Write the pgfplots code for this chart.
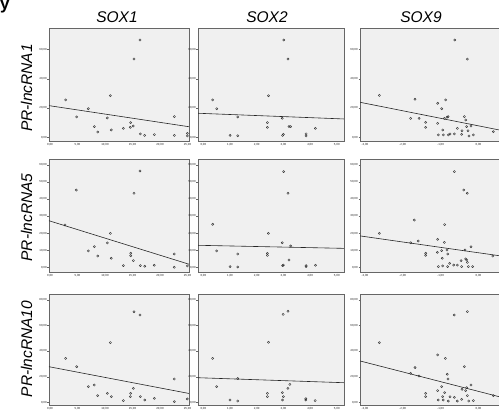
\documentclass[border=0pt]{standalone}
\usepackage{fontspec}
\setmainfont{Liberation Sans}
\usepackage{pgfplots}
\pgfplotsset{compat=1.18}
\definecolor{bgpanel}{HTML}{F0F0F0}
\definecolor{framec}{HTML}{666666}
\definecolor{ptc}{HTML}{2A2A2A}
\pgfplotsset{
 panel/.style={
  scale only axis, anchor=north west, height=113pt,
  axis background/.style={fill=bgpanel},
  axis line style={framec, line width=0.85pt},
  tick style={framec, line width=0.3pt},
  major tick length=1.5pt,
  tick align=outside,
  xtick pos=bottom, ytick pos=left,
  ticklabel style={font=\fontsize{2.9}{3}\selectfont, text=black!85, inner sep=0.6pt},
  /pgf/number format/.cd, fixed, fixed zerofill, precision=2, use comma, assume math mode=true,
 },
 dots/.style={only marks, mark=o, mark size=1.1pt, mark options={draw=ptc, line width=0.4pt}},
 fitl/.style={no marks, black!85, line width=0.6pt},
 col1/.style={width=140pt, xmin=-0.18, xmax=25.27, xtick={0,5,...,25}},
 col2/.style={width=146pt, xmin=-0.2, xmax=5.27, xtick={0,1,...,5}},
 col3/.style={width=145pt, xmin=-3.132, xmax=0.704, xtick={-3,-2,-1,0}},
 row1/.style={ymin=-2.53, ymax=74.6, ytick={0,20,40,60}},
 row2/.style={ymin=-2.76, ymax=63.5, ytick={0,10,...,60}},
 row3/.style={height=111pt, ymin=-2.1, ymax=84.6, ytick={0,20,...,80}},
}
\begin{document}
\begin{tikzpicture}[x=1pt,y=1pt]
\useasboundingbox (0,0) rectangle (499pt,411pt);
\clip (0,0) rectangle (499pt,411pt);
% ---------- Row 1 ----------
\begin{axis}[panel, col1, row1, at={(49pt,383pt)}]
\addplot[dots] coordinates {(2.85,25.5) (4.85,13.9) (6.97,19.5) (8.06,7.3) (8.67,3.6) (10.42,13.2) (10.97,28.4) (11.15,5.0) (13.33,6.1) (14.67,10.0) (14.6,6.8) (15.15,7.7) (15.27,53.4) (16.36,66.4) (16.42,2.3) (17.21,1.3) (18.97,1.8) (22.6,14.1) (22.6,1.3) (24.97,2.7) (24.97,0.9)};
\addplot[fitl] coordinates {(-0.18,21.6) (25.27,7.2)};
\end{axis}
\begin{axis}[panel, col2, row1, at={(198pt,383pt)}]
\addplot[dots] coordinates {(0.35,25.5) (0.50,19.5) (1.00,1.3) (1.29,13.9) (1.29,1.1) (2.40,10.0) (2.40,6.8) (2.44,28.4) (2.96,13.0) (2.97,1.3) (3.00,2.0) (3.01,66.4) (3.17,53.4) (3.21,7.3) (3.27,7.3) (3.85,2.3) (3.85,0.9) (4.20,6.1)};
\addplot[fitl] coordinates {(-0.2,16.4) (5.27,12.5)};
\end{axis}
\begin{axis}[panel, col3, row1, at={(360pt,383pt)}]
\addplot[dots] coordinates {(-2.621,28.6) (-1.792,12.9) (-1.677,25.9) (-1.571,12.9) (-1.395,10.2) (-1.395,6.8) (-1.078,23.2) (-1.078,9.5) (-1.060,1.6) (-0.972,19.5) (-0.945,5.0) (-0.928,1.6) (-0.901,12.9) (-0.866,25.5) (-0.831,13.6) (-0.804,14.1) (-0.795,1.6) (-0.751,2.3) (-0.637,2.3) (-0.628,66.4) (-0.557,6.1) (-0.443,2.0) (-0.434,4.5) (-0.372,14.1) (-0.337,11.8) (-0.311,7.3) (-0.293,53.4) (-0.275,4.5) (-0.249,0.9) (-0.196,7.7) (-0.134,1.6) (0.395,3.8)};
\addplot[fitl] coordinates {(-3.132,23.9) (0.704,4.2)};
\end{axis}
% ---------- Row 2 ----------
\begin{axis}[panel, col1, row2, at={(49pt,252pt)}]
\addplot[dots] coordinates {(2.73,24.8) (4.79,45.3) (6.97,9.6) (8.06,12.1) (8.67,6.6) (10.42,14.3) (10.97,19.9) (11.15,5.3) (13.33,1.0) (14.67,8.2) (14.67,6.8) (15.15,3.9) (15.27,43.4) (16.36,56.5) (16.42,1.0) (17.21,0.6) (18.97,1.2) (22.6,7.8) (22.6,0.0) (24.97,0.8)};
\addplot[fitl] coordinates {(-0.18,27.3) (25.27,1.8)};
\end{axis}
\begin{axis}[panel, col2, row2, at={(198pt,252pt)}]
\addplot[dots] coordinates {(0.35,25.2) (0.50,9.6) (1.00,0.4) (1.29,7.8) (1.29,0.2) (2.40,8.2) (2.40,7.0) (2.44,19.9) (2.96,14.4) (2.97,1.0) (3.00,1.3) (3.01,56.1) (3.17,43.4) (3.21,4.3) (3.27,12.5) (3.85,1.0) (3.85,0.4) (4.20,1.2)};
\addplot[fitl] coordinates {(-0.2,12.9) (5.27,11.1)};
\end{axis}
\begin{axis}[panel, col3, row2, at={(360pt,252pt)}]
\addplot[dots] coordinates {(-2.621,19.9) (-1.792,14.4) (-1.695,27.7) (-1.589,15.4) (-1.395,8.2) (-1.395,7.0) (-1.086,8.8) (-1.078,16.4) (-1.060,0.4) (-0.972,9.8) (-0.954,5.3) (-0.945,0.8) (-0.901,14.6) (-0.893,25.0) (-0.831,10.1) (-0.813,7.8) (-0.813,0.4) (-0.760,2.3) (-0.654,1.3) (-0.637,56.1) (-0.557,1.3) (-0.460,3.9) (-0.443,0.4) (-0.390,45.3) (-0.354,10.1) (-0.337,4.9) (-0.311,4.3) (-0.293,43.4) (-0.293,2.9) (-0.266,0.4) (-0.196,12.1) (-0.152,0.4) (0.377,6.6)};
\addplot[fitl] coordinates {(-3.132,18.4) (0.704,6.3)};
\end{axis}
% ---------- Row 3 ----------
\begin{axis}[panel, col1, row3, at={(49pt,117pt)}]
\addplot[dots] coordinates {(2.85,34.3) (4.85,27.8) (6.97,12.2) (8.06,13.5) (8.67,5.2) (10.42,7.0) (10.97,46.6) (11.15,4.4) (13.33,1.3) (14.67,7.0) (14.6,4.4) (15.15,10.9) (15.27,70.8) (16.36,68.2) (16.42,4.4) (17.21,1.8) (18.97,3.1) (22.6,18.2) (22.6,0.5) (24.97,2.6)};
\addplot[fitl] coordinates {(-0.18,27.8) (25.27,6.9)};
\end{axis}
\begin{axis}[panel, col2, row3, at={(198pt,117pt)}]
\addplot[dots] coordinates {(0.35,34.3) (0.50,12.2) (1.00,1.8) (1.29,1.0) (1.29,18.5) (2.40,7.0) (2.40,4.4) (2.44,46.9) (2.96,7.5) (2.97,1.8) (3.00,4.4) (2.99,68.7) (3.17,71.1) (3.17,10.9) (3.24,14.0) (3.84,2.8) (3.84,1.8) (4.19,1.3)};
\addplot[fitl] coordinates {(-0.2,19.2) (5.27,15.3)};
\end{axis}
\begin{axis}[panel, col3, row3, at={(360pt,117pt)}]
\addplot[dots] coordinates {(-2.621,46.6) (-1.792,22.6) (-1.677,27.1) (-1.571,20.5) (-1.395,7.0) (-1.395,4.4) (-1.078,37.0) (-1.078,9.1) (-1.060,1.8) (-0.972,12.2) (-0.945,4.4) (-0.928,1.8) (-0.893,7.5) (-0.875,34.3) (-0.822,21.9) (-0.804,18.2) (-0.795,1.0) (-0.751,4.4) (-0.637,68.2) (-0.637,3.9) (-0.557,1.0) (-0.443,2.3) (-0.434,10.1) (-0.372,27.8) (-0.337,9.1) (-0.311,11.4) (-0.293,70.8) (-0.293,5.2) (-0.257,1.0) (-0.196,13.5) (-0.134,1.3) (0.395,5.2)};
\addplot[fitl] coordinates {(-3.132,32.3) (0.704,3.2)};
\end{axis}
% ---------- Titles ----------
\node[anchor=base, font=\fontsize{15.5}{16}\selectfont\itshape] at (117pt,388pt) {SOX1};
\node[anchor=base, font=\fontsize{15.5}{16}\selectfont\itshape] at (267pt,388pt) {SOX2};
\node[anchor=base, font=\fontsize{15.5}{16}\selectfont\itshape] at (421pt,388pt) {SOX9};
\node[anchor=base, rotate=90, font=\fontsize{15.5}{16}\selectfont\itshape] at (32pt,323pt) {PR-lncRNA1};
\node[anchor=base, rotate=90, font=\fontsize{15.5}{16}\selectfont\itshape] at (32pt,193.5pt) {PR-lncRNA5};
\node[anchor=base, rotate=90, font=\fontsize{15.5}{16}\selectfont\itshape] at (32pt,62pt) {PR-lncRNA10};
\node[anchor=base west, inner sep=0pt, font=\fontsize{17}{17}\selectfont\bfseries] at (0pt,401pt) {y};
\end{tikzpicture}
\end{document}
